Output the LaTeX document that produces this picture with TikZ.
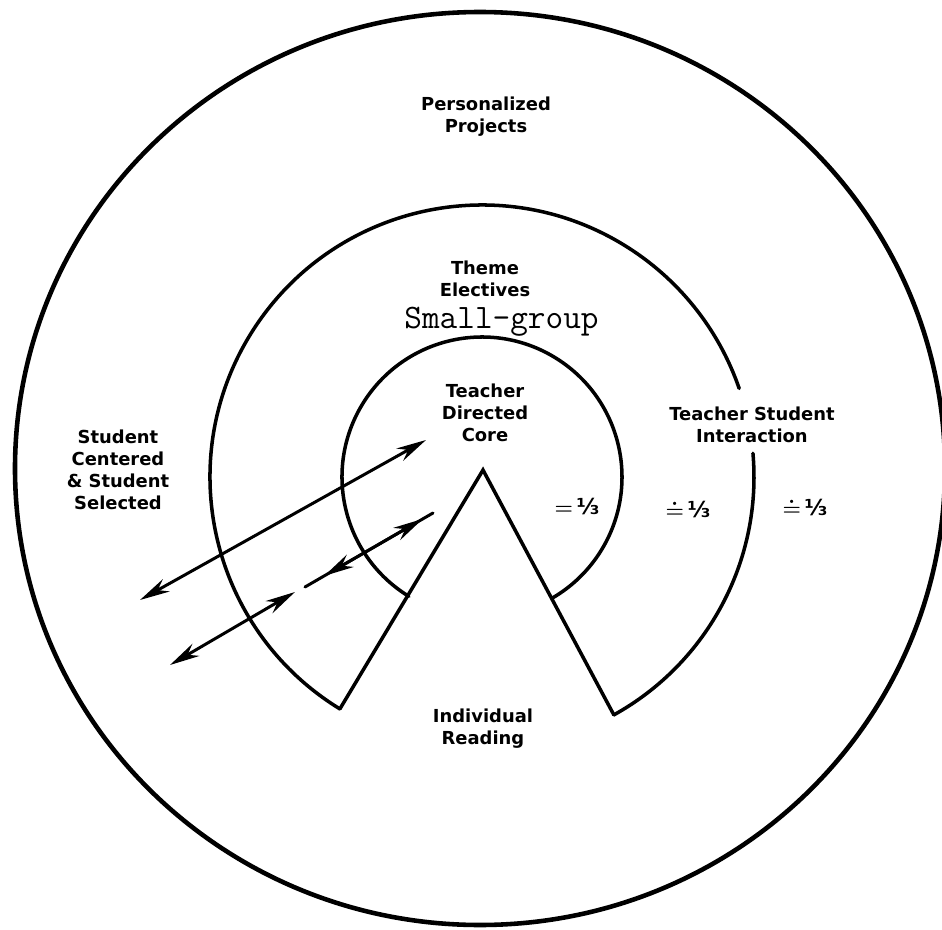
\documentclass[tikz,border=0pt]{standalone}
\usepackage{fontspec}
\setmainfont{DejaVu Sans}
\usetikzlibrary{calc,arrows.meta,positioning}

\tikzset{
  ring/.style={line width=2pt},
  zone/.style={font=\bfseries\fontsize{10.2}{12.6}\selectfont,align=center,inner sep=0pt},
  share/.style={font=\boldmath\bfseries\fontsize{12.5}{13}\selectfont,inner sep=0pt},
  talk/.style={line width=1.7pt,{Stealth[length=6mm,width=2.8mm]}-{Stealth[length=6mm,width=2.8mm]}},
}

\begin{document}
\begin{tikzpicture}[line cap=round,line join=miter]
  \useasboundingbox (-9.64,-9.04) rectangle (9.2,9.54);
  \coordinate (apex) at (0.02,0.14);
  \coordinate (ML) at (238.5:5.44);
  \coordinate (MR) at (299:5.44);
  \coordinate (gap) at (5:5.44);
  \coordinate (IL) at (238.5:2.8);

  % outer ring
  \draw[line width=2.6pt] (-0.04,0.17) ellipse [x radius=9.3,y radius=9.13];
  % middle ring, open where the label sits
  \draw[ring] (ML) arc[start angle=238.5,end angle=19,radius=5.44];
  \draw[ring] (gap) arc[start angle=5,end angle=-61,radius=5.44];
  % core and the wedge
  \draw[ring] (IL) arc[start angle=238.5,end angle=-60,radius=2.8];
  \draw[ring] (ML) -- (apex) -- (MR);

  % two-way arrows
  \coordinate (L1) at (-6.84,-2.46);
  \coordinate (L2) at (-1.12,0.74);
  \coordinate (A1) at (-6.24,-3.76);
  \coordinate (A2) at (-3.74,-2.30);
  \coordinate (B1) at (-3.54,-2.20);
  \coordinate (B2) at (-0.98,-0.72);
  \coordinate (B1h) at ($(B1)!0.15!(B2)$);
  \coordinate (B2h) at ($(B1)!0.92!(B2)$);
  \draw[talk] (L1) -- (L2);
  \draw[talk] (A1) -- (A2);
  \draw[line width=1.7pt] (B1) -- (B2);
  \draw[talk] (B1h) -- (B2h);

  \node[zone] (projects) at (0.08,7.2) {Personalized\\Projects};
  \node[zone] (electives) at (0.06,3.96) {Theme\\Electives};
  \node[anchor=base,inner sep=0pt,font=\ttfamily\fontsize{19.5}{20}\selectfont] (smallgroup) at (0.39,2.98) {Small-group};
  \node[zone] (core) at (0.06,1.29) {Teacher\\Directed\\Core};
  \node[zone] (interaction) at (5.4,1.04) {Teacher Student\\Interaction};
  \node[zone] (centered) at (-7.28,0.14) {Student\\Centered\\\& Student\\Selected};
  \node[zone] (reading) at (0.02,-5.04) {Individual\\Reading};
  \node[share] (third1) at (1.9,-0.6) {$=$\,⅓};
  \node[share] (third2) at (4.12,-0.64) {$\doteq$\,⅓};
  \node[share] (third3) at (6.46,-0.6) {$\doteq$\,⅓};
\end{tikzpicture}
\end{document}
